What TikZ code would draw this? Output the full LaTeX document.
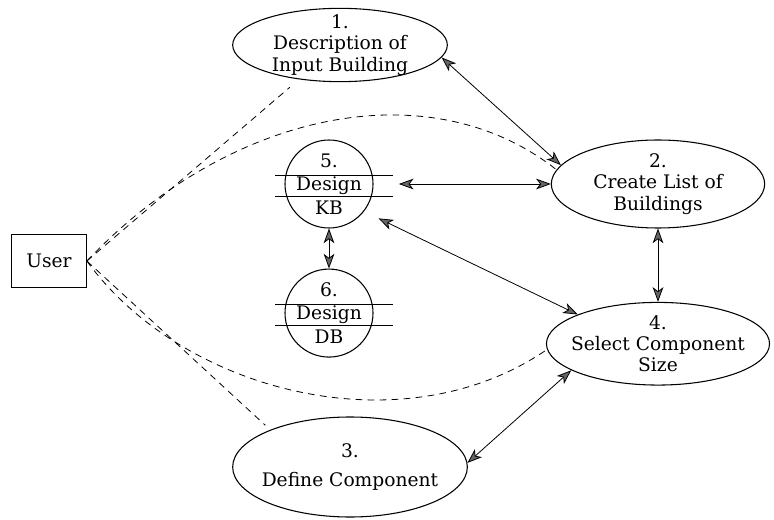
\documentclass[tikz,border=0pt]{standalone}
\usepackage{fontspec}
\setmainfont{DejaVu Serif}
\usetikzlibrary{shapes.geometric,positioning,arrows.meta}

\begin{document}
\begin{tikzpicture}[x=0.75pt,y=-0.75pt,
    font=\fontsize{14}{16}\selectfont,
    >={Stealth[length=11pt,width=8pt,inset=3pt,fill=gray!80!black]},
    process/.style={ellipse,draw,line width=0.8pt,align=center,inner xsep=0pt},
    store/.style={circle,draw,line width=0.8pt,align=center,inner sep=-2.2pt,minimum size=66pt},
    extern/.style={rectangle,draw,line width=0.8pt,minimum width=56pt,minimum height=40pt},
    flow/.style={<->,line width=0.6pt},
    link/.style={dash pattern=on 5pt off 4pt,line width=0.6pt}]
        \useasboundingbox (0,0) rectangle (774,520);

        \node[extern] (user) at (49,261) {User};
        \node[process,minimum width=161pt,minimum height=55pt,inner ysep=-3.4pt] (n1) at (340,45)
            {1.\\Description of\\Input Building};
        \node[process,minimum width=160pt,minimum height=66pt,inner ysep=0.3pt] (n2) at (658,184)
            {2.\\Create List of\\Buildings};
        \node[process,minimum width=165pt,minimum height=62pt,inner xsep=-6pt,inner ysep=-1pt] (n4) [below=55pt of n2]
            {4.\\Select Component\\Size};
        \node[process,minimum width=176pt,minimum height=75pt,inner xsep=-4.5pt] (n3) at (350,467)
            {3.\\[6pt]Define Component};
        \node[store] (n5) at (329,184) {5.\\[1.5pt]Design\\[1.5pt]KB};
        \node[store] (n6) [below=30pt of n5] {6.\\[1.5pt]Design\\[1.5pt]DB};

        % bars of the two stores
        \draw[line width=0.7pt] ([shift={(-54,-9)}]n5.center) -- ([shift={(64,-9)}]n5.center);
        \draw[line width=0.7pt] ([shift={(-54,12)}]n5.center) -- ([shift={(64,12)}]n5.center);
        \draw[line width=0.7pt] ([shift={(-54,-9)}]n6.center) -- ([shift={(64,-9)}]n6.center);
        \draw[line width=0.7pt] ([shift={(-54,12)}]n6.center) -- ([shift={(64,12)}]n6.center);

        \draw[flow] (n1.-7) -- (n2.169);
        \draw[flow,shorten <=19pt] (n5.east) -- (n2.west);
        \draw[flow,shorten <=12pt] (n5.-38) -- (n4.160);
        \draw[flow] (n5.south) -- (n6.north);
        \draw[flow] (n2.south) -- (n4.north);
        \draw[flow] (n4.197) -- (n3.2);

        % dashed links from the user
        \draw[link,shorten >=9pt] (user.east) -- (n1.-140);
        \draw[link] (user.east) .. controls (230,110) and (430,70) .. (n2.172);
        \draw[link] (user.east) .. controls (180,390) and (400,450) .. (n4.183);
        \draw[link,shorten >=5pt] (user.east) -- (n3.155);
    \end{tikzpicture}
\end{document}
